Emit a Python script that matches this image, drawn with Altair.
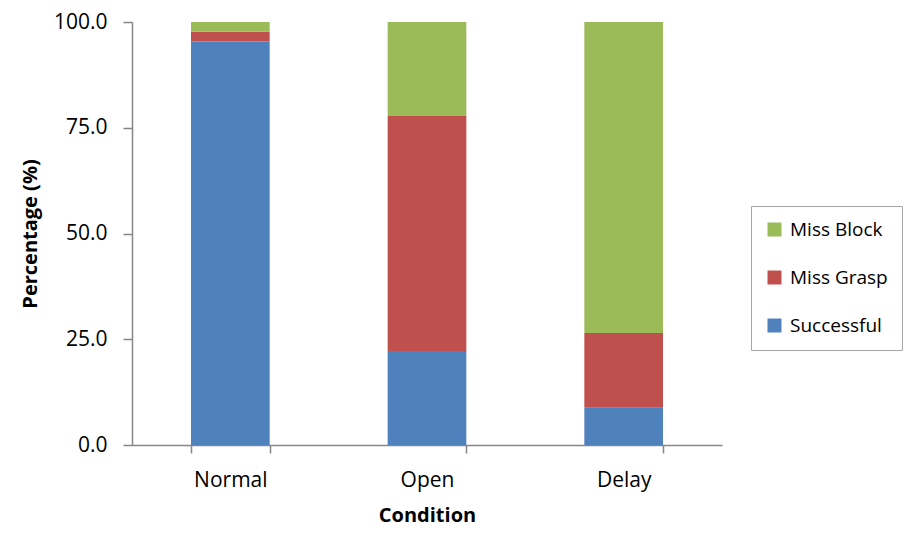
import altair as alt
import pandas as pd

conditions = ["Normal", "Open", "Delay"]
outcomes = ["Successful", "Miss Grasp", "Miss Block"]
successful = [95.4, 22.2, 8.8]
miss_grasp = [2.3, 55.6, 17.7]
miss_block = [2.3, 22.2, 73.5]
colors = ["#4F81BD", "#C0504D", "#9BBB59"]
y_ticks = [0, 25, 50, 75, 100]

rows = []
for i, c in enumerate(conditions):
    for o, vals in zip(outcomes, [successful, miss_grasp, miss_block]):
        rows.append({"Condition": c, "Outcome": o, "Value": vals[i],
                     "order": outcomes.index(o)})
df = pd.DataFrame(rows)

FONT = "Open Sans"
AX = "#868686"

legend_domain = list(reversed(outcomes))
legend_range = list(reversed(colors))

chart = alt.Chart(df).mark_bar().encode(
    x=alt.X("Condition:N", sort=conditions,
            scale=alt.Scale(paddingInner=0.6, paddingOuter=0.3),
            axis=alt.Axis(title="Condition", labelAngle=0, tickBand="extent",
                          tickSize=8, labelPadding=16, titlePadding=15)),
    y=alt.Y("Value:Q", stack="zero",
            scale=alt.Scale(domain=[0, 100], nice=False),
            axis=alt.Axis(title="Percentage (%)", values=y_ticks, format=".1f",
                          tickSize=9, labelPadding=16, grid=False, titlePadding=13)),
    color=alt.Color("Outcome:N",
                    scale=alt.Scale(domain=legend_domain, range=legend_range),
                    legend=alt.Legend(title=None, orient="none", legendX=619, legendY=184,
                                      symbolType="square", symbolSize=196,
                                      symbolStrokeWidth=0, labelOffset=6,
                                      labelFontSize=19, labelFont=FONT,
                                      rowPadding=28, padding=14,
                                      strokeColor="#A6A6A6",
                                      labelLimit=200)),
    order=alt.Order("order:Q", sort="ascending"),
).properties(
    width=590, height=423,
    autosize=alt.AutoSizeParams(type="none"),
    padding={"left": 124, "top": 14, "right": 182, "bottom": 83},
).configure_view(stroke=None).configure_axis(
    domainColor=AX, tickColor=AX, domainWidth=1.5, tickWidth=1.5,
    labelFont=FONT, labelFontSize=21, labelColor="#000000",
    titleFont=FONT, titleFontSize=20, titleFontWeight="bold", titleColor="#000000",
)

chart.save("out.html", embed_options={"renderer": "svg", "actions": False})
